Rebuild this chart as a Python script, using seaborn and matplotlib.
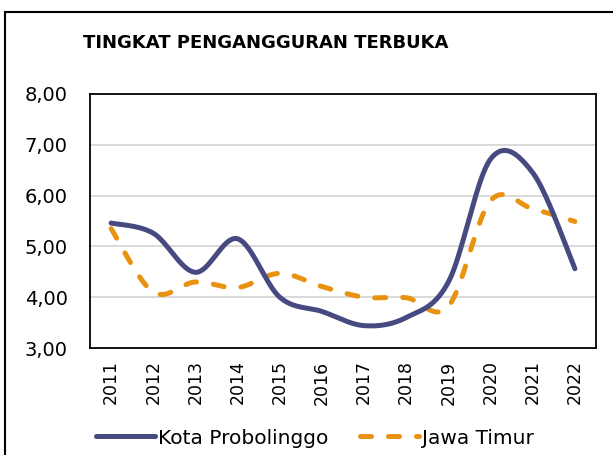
import numpy as np
import pandas as pd
import matplotlib
matplotlib.use("Agg")
import matplotlib.pyplot as plt
import matplotlib.patches as patches
from matplotlib.ticker import FuncFormatter, MultipleLocator
import seaborn as sns

# data
years = ["2011", "2012", "2013", "2014", "2015", "2016",
         "2017", "2018", "2019", "2020", "2021", "2022"]
kota_probolinggo = [5.46, 5.26, 4.49, 5.15, 4.00, 3.72, 3.44, 3.60, 4.30, 6.72, 6.45, 4.56]
jawa_timur = [5.35, 4.10, 4.30, 4.19, 4.47, 4.21, 4.00, 3.99, 3.82, 5.90, 5.74, 5.49]

title = "TINGKAT PENGANGGURAN TERBUKA"
label_kota = "Kota Probolinggo"
label_jatim = "Jawa Timur"

navy = "#464A80"
orange = "#E9920F"


# Excel style smoothed line (Catmull-Rom through the points)
def smooth(vals, n=40):
    y = np.asarray(vals, dtype=float)
    x = np.arange(len(y), dtype=float)
    px = np.concatenate([[x[0]], x, [x[-1]]])
    py = np.concatenate([[y[0]], y, [y[-1]]])
    xs, ys = [], []
    for i in range(1, len(px) - 2):
        t = np.linspace(0, 1, n, endpoint=(i == len(px) - 3))
        for p, out in ((px, xs), (py, ys)):
            p0, p1, p2, p3 = p[i - 1], p[i], p[i + 1], p[i + 2]
            m1 = (p2 - p0) / 2
            m2 = (p3 - p1) / 2
            h00 = 2 * t**3 - 3 * t**2 + 1
            h10 = t**3 - 2 * t**2 + t
            h01 = -2 * t**3 + 3 * t**2
            h11 = t**3 - t**2
            out.extend(h00 * p1 + h10 * m1 + h01 * p2 + h11 * m2)
    return np.array(xs), np.array(ys)


sns.set_style("white")
plt.rcParams["font.family"] = ["DejaVu Sans"]
plt.rcParams["text.color"] = "black"
plt.rcParams["xtick.color"] = "black"
plt.rcParams["ytick.color"] = "black"

fig = plt.figure(figsize=(6.13, 4.55), dpi=100)
ax = fig.add_axes([90 / 613, 1 - 348 / 455, 506 / 613, 254 / 455])

kx, ky = smooth(kota_probolinggo)
jx, jy = smooth(jawa_timur)
df_k = pd.DataFrame({"x": kx, "y": ky})
df_j = pd.DataFrame({"x": jx, "y": jy})

sns.lineplot(data=df_j, x="x", y="y", ax=ax, color=orange, lw=3.6,
             label=label_jatim, sort=False, zorder=3)
sns.lineplot(data=df_k, x="x", y="y", ax=ax, color=navy, lw=3.6,
             label=label_kota, sort=False, zorder=4)
jline, kline = ax.lines[0], ax.lines[1]
jline.set_dashes([2.2, 3.4])
jline.set_dash_capstyle("round")
kline.set_solid_capstyle("round")

ax.set_xlim(-0.5, len(years) - 0.5)
ax.set_ylim(3, 8)
ax.yaxis.set_major_locator(MultipleLocator(1))
ax.yaxis.set_major_formatter(FuncFormatter(lambda v, p: f"{v:.2f}".replace(".", ",")))
ax.set_xticks(range(len(years)))
ax.set_xticklabels(years, rotation=90)
ax.tick_params(axis="y", labelsize=14, pad=16, length=0, labelcolor="black")
ax.tick_params(axis="x", labelsize=12.5, pad=9, length=0, labelcolor="black")
ax.set_xlabel("")
ax.set_ylabel("")
for yv in [4, 5, 6, 7]:
    ax.axhline(yv, color="#D9D9D9", lw=1.4, zorder=1)
for s in ax.spines.values():
    s.set_color("black")
    s.set_linewidth(1.3)

ax.get_legend().remove()
fig.legend(handles=[kline, jline], labels=[label_kota, label_jatim],
           loc="center", bbox_to_anchor=(315 / 613, 1 - 438 / 455), ncol=2,
           frameon=False, fontsize=14.5, handlelength=2.9, handletextpad=0.15,
           columnspacing=1.6, labelcolor="black")

fig.text(266 / 613, 1 - 43 / 455, title, ha="center", va="center",
         fontsize=13, fontweight="bold", color="black")

# outer chart border (cut by the image edge on the right and bottom)
fig.patches.append(patches.Rectangle((5 / 613, -0.1), 1.2, 1.1 - 12 / 455,
                                     transform=fig.transFigure, fill=False,
                                     edgecolor="black", lw=1.5))

fig.savefig("out.png", dpi=100)
